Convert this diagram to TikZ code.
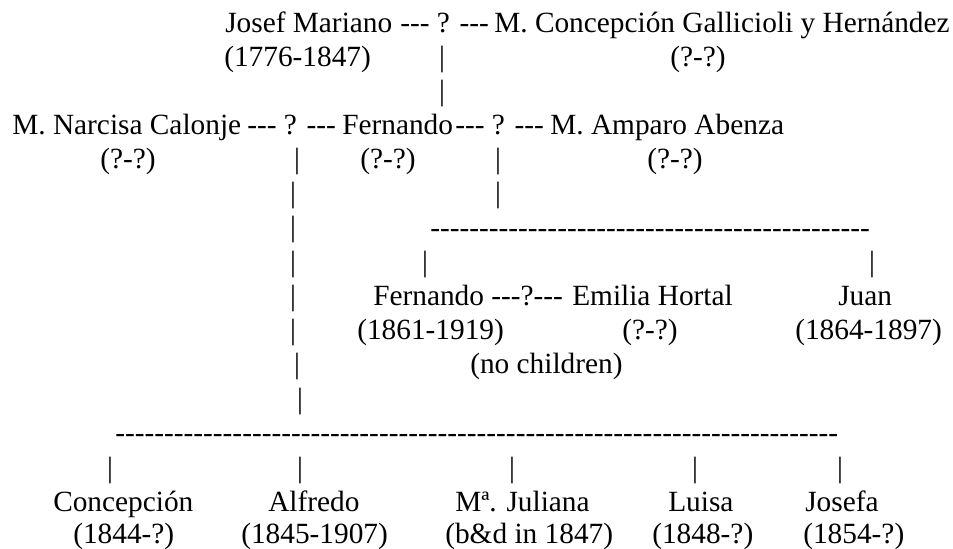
\documentclass[tikz,border=0pt]{standalone}
\usepackage{fontspec}
\setmainfont{Liberation Serif}[Ligatures=TeXOff]
\usepackage{tikz}
\tikzstyle{txt} = [anchor=base west, inner sep=0pt, font=\fontsize{22}{26}\selectfont]
\tikzstyle{person} = [txt]
\tikzstyle{dates} = [txt]
\tikzstyle{wed} = [txt]
\tikzstyle{bar} = [txt, anchor=base]
\newcommand{\dashrow}[1]{\foreach \k in {1,...,#1}{-}}

\begin{document}
\begin{tikzpicture}[x=0.75pt, y=-0.75pt]
\useasboundingbox (0,0) rectangle (953,549);

\node (josef) [person] at (225,33) {Josef Mariano};
\node (josefwed) [wed] at (400,33) {--- ? ---};
\node (gallicioli) [person] at (494,33) {M. Concepción Gallicioli y Hernández};
\node (josefdates) [dates] at (224,67) {(1776-1847)};
\node (bar1) [bar] at (442,67) {|};
\node (galliciolidates) [dates] at (670,67) {(?-?)};
\node (bar2) [bar] at (442,101) {|};

\node (narcisa) [person] at (12,135) {M. Narcisa Calonje};
\node (narcisawed) [wed] at (247,135) {--- ? ---};
\node (fernando) [person] at (342,135) {Fernando};
\node (amparowed) [wed] at (455,135) {--- ? ---};
\node (amparo) [person] at (550,135) {M. Amparo Abenza};
\node (narcisadates) [dates] at (100,169) {(?-?)};
\node (bar3) [bar] at (297,169) {|};
\node (fernandodates) [dates] at (360,169) {(?-?)};
\node (bar4) [bar] at (498,169) {|};
\node (amparodates) [dates] at (647,169) {(?-?)};
\node (bar5) [bar] at (293,203) {|};
\node (bar6) [bar] at (498,203) {|};

\node (bar7) [bar] at (293,237) {|};
\node (sibs1) [txt] at (430,238) {\dashrow{45}};
\node (bar8) [bar] at (293,271) {|};
\node (bar9) [bar] at (425,271) {|};
\node (bar10) [bar] at (872,271) {|};
\node (bar11) [bar] at (293,305) {|};
\node (fernandojr) [person] at (373,305) {Fernando};
\node (emiliawed) [wed] at (491,305) {---?---};
\node (emilia) [person] at (572,305) {Emilia Hortal};
\node (juan) [person] at (838,305) {Juan};
\node (bar12) [bar] at (293,339) {|};
\node (fernandojrdates) [dates] at (357,339) {(1861-1919)};
\node (emiliadates) [dates] at (622,339) {(?-?)};
\node (juandates) [dates] at (795,339) {(1864-1897)};
\node (bar13) [bar] at (297,373) {|};
\node (nochildren) [dates] at (470,373) {(no children)};
\node (bar14) [bar] at (300,408) {|};

\node (sibs2) [txt] at (115,442) {\dashrow{74}};
\node (bar15) [bar] at (110,477) {|};
\node (bar16) [bar] at (300,477) {|};
\node (bar17) [bar] at (512,477) {|};
\node (bar18) [bar] at (695,477) {|};
\node (bar19) [bar] at (840,477) {|};
\node (concepcion) [person] at (53,511) {Concepción};
\node (alfredo) [person] at (268,511) {Alfredo};
\node (juliana) [person] at (455,511) {Mª. Juliana};
\node (luisa) [person] at (668,511) {Luisa};
\node (josefa) [person] at (805,511) {Josefa};
\node (concepciondates) [dates] at (73,543) {(1844-?)};
\node (alfredodates) [dates] at (241,543) {(1845-1907)};
\node (julianadates) [dates] at (445,543) {(b\&d in 1847)};
\node (luisadates) [dates] at (652,543) {(1848-?)};
\node (josefadates) [dates] at (803,543) {(1854-?)};

\end{tikzpicture}
\end{document}
